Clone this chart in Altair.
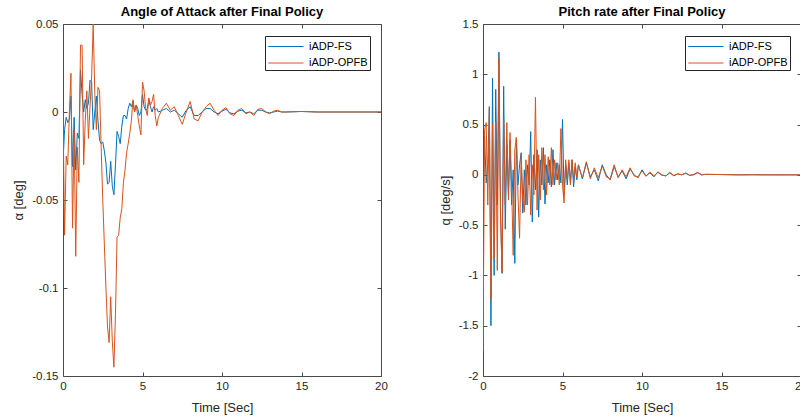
import numpy as np
import pandas as pd
import altair as alt

# Time grid: 0.1 s steps through the transient, then coarser samples
time_s = np.concatenate([
    np.round(np.arange(0, 6.05, 0.1), 2),
    np.arange(6.25, 14.01, 0.25),
    np.arange(15.0, 20.5, 1.0),
])

series_names = ["iADP-FS", "iADP-OPFB"]
series_colors = ["#0072BD", "#D95319"]

# Angle of attack [deg]
alpha_fs = [
    -0.029, -0.01, -0.003, -0.006, -0.004, 0.009, -0.031, -0.003, -0.033, -0.012,
    -0.015, 0.024, 0.01, 0.0, 0.007, 0.002, 0.005, 0.018, 0.017, -0.01,
    0.0, 0.009, -0.005, -0.016, -0.018, -0.017, -0.022, -0.029, -0.041, -0.04,
    -0.028, -0.042, -0.047, -0.03, -0.011, -0.014, -0.018, -0.008, -0.002, -0.002,
    -0.004, 0.002, 0.005, 0.003, 0.006, 0.0, 0.004, 0.002, -0.002, 0.0,
    0.01, 0.003, 0.001, 0.002, 0.007, 0.003, 0.0, 0.003, 0.001, 0.002,
    0.0,
    0.001, 0.002, 0.0, 0.001, -0.001, -0.003, 0.001, 0.003, -0.002, -0.002,
    0.0, 0.002, 0.002, 0.0, -0.001, 0.0005, 0.0015, -0.0005, -0.001, 0.0005,
    0.001, -0.0005, 0.0, -0.001, 0.001, 0.001, 0.0, -0.0005, 0.0, 0.0005,
    0.0, 0.0,
    0.0003, 0.0, 0.0, 0.0, 0.0, 0.0,
]
alpha_opfb = [
    0.0, -0.07, -0.025, -0.03, 0.0, 0.022, -0.066, -0.01, -0.082, -0.02,
    -0.04, 0.038, 0.038, -0.03, -0.005, 0.012, -0.015, 0.003, 0.02, 0.05,
    0.01, -0.01, 0.014, 0.012, -0.02, -0.05, -0.075, -0.1, -0.122, -0.131,
    -0.105, -0.13, -0.145, -0.115, -0.071, -0.07, -0.06, -0.055, -0.04, -0.033,
    -0.023, -0.018, -0.012, -0.005, 0.007, 0.0, 0.004, -0.002, -0.008, -0.013,
    0.017, 0.012, 0.002, -0.002, 0.008, 0.004, 0.006, 0.01, -0.002, -0.008,
    -0.003,
    0.002, 0.005, 0.001, 0.003, -0.002, -0.007, 0.0, 0.006, -0.004, -0.005,
    0.0, 0.003, 0.005, 0.001, -0.002, 0.001, 0.0025, -0.001, -0.002, 0.001,
    0.002, -0.001, 0.0, -0.002, 0.0015, 0.002, 0.0, -0.001, 0.0005, 0.001,
    0.0, 0.0,
    0.0003, 0.0, 0.0, 0.0, 0.0, 0.0,
]

# Pitch rate [deg/s]
q_fs = [
    -0.25, 0.38, -0.08, 0.1, 0.68, -1.5, 0.96, -1.0, 0.85, -0.3,
    1.22, -0.33, -0.98, 0.88, -0.54, 0.3, -0.2, 0.35, -0.3, 0.05,
    -0.88, 0.37, -0.1, 0.1, 0.22, -0.38, 0.05, -0.3, 0.1, -0.1,
    0.43, -0.47, 0.2, -0.15, 0.25, -0.42, 0.15, -0.1, 0.27, -0.29,
    0.1, -0.08, 0.15, -0.12, 0.25, -0.1, 0.12, -0.05, 0.1, -0.08,
    0.55, -0.2, 0.1, -0.1, 0.12, -0.08, 0.15, -0.12, 0.08, -0.05,
    0.1,
    -0.04, 0.12, -0.02, 0.05, -0.06, 0.1, 0.0, -0.05, 0.08, -0.02,
    0.04, -0.04, 0.06, 0.0, -0.03, 0.05, -0.01, 0.02, -0.02, 0.03,
    0.0, -0.01, 0.02, -0.01, 0.01, 0.0, 0.015, -0.005, 0.0, 0.02,
    0.0, 0.005,
    0.003, 0.0, 0.001, 0.0, 0.0, 0.0,
]
q_opfb = [
    -1.75, 0.45, 0.52, -0.3, 0.67, -1.24, 0.5, -0.83, 0.53, -0.95,
    1.17, -0.4, -0.97, 0.55, -0.3, 0.52, -0.25, 0.42, -0.1, -0.8,
    0.25, 0.37, -0.2, -0.63, 0.2, -0.25, -0.37, 0.15, -0.3, 0.2,
    -0.4, 0.1, -0.2, 0.77, -0.35, 0.2, -0.25, 0.27, -0.15, 0.2,
    -0.2, 0.18, -0.1, 0.27, -0.1, 0.15, -0.05, 0.12, -0.1, 0.46,
    -0.1, -0.28, 0.15, -0.05, 0.15, -0.1, 0.15, -0.05, 0.12, -0.03,
    0.1,
    -0.03, 0.13, -0.04, 0.07, -0.03, 0.09, -0.02, -0.04, 0.1, -0.03,
    0.05, -0.02, 0.07, -0.01, -0.02, 0.04, -0.015, 0.03, -0.01, 0.025,
    -0.005, -0.01, 0.025, -0.005, 0.01, 0.0, 0.02, -0.005, 0.005, 0.025,
    0.0, 0.005,
    0.003, 0.0, 0.001, 0.0, 0.0, 0.0,
]

x_ticks = [0, 5, 10, 15, 20]
alpha_ticks = [-0.15, -0.1, -0.05, 0, 0.05]
q_ticks = [-2, -1.5, -1, -0.5, 0, 0.5, 1, 1.5]

PLOT_W = 318
PLOT_H = 352
FONT = "Liberation Sans"
BOX = "#4a4a4a"
TEXT = "#262626"
LABEL_EXPR = "replace(format(datum.value, '~g'), '\u2212', '-')"


def long_frame(fs, opfb):
    return pd.DataFrame({
        "t": np.concatenate([time_s, time_s]),
        "v": np.concatenate([fs, opfb]),
        "series": [series_names[0]] * len(time_s) + [series_names[1]] * len(time_s),
    })


def panel(df, title, ytitle, ydomain, yticks):
    xs = alt.Scale(domain=[0, 20], nice=False, zero=False)
    ys = alt.Scale(domain=ydomain, nice=False, zero=False)

    lines = alt.Chart(df).mark_line(strokeWidth=1, clip=True).encode(
        x=alt.X("t:Q", scale=xs, axis=alt.Axis(
            orient="bottom", values=x_ticks, title="Time [Sec]", ticks=False,
            domain=False, grid=False, labelFlush=False, labelPadding=4,
            titlePadding=10, labelExpr=LABEL_EXPR)),
        y=alt.Y("v:Q", scale=ys, axis=alt.Axis(
            orient="left", values=yticks, title=ytitle, ticks=False,
            domain=False, grid=False, labelPadding=5, titlePadding=6,
            labelExpr=LABEL_EXPR)),
        color=alt.Color("series:N", scale=alt.Scale(domain=series_names, range=series_colors),
                        legend=alt.Legend(
                            title=None, orient="none", legendX=202, legendY=12,
                            fillColor="white", strokeColor=TEXT, padding=2,
                            symbolType="M-0.9,0H3.5", symbolSize=256,
                            symbolStrokeWidth=1,
                            labelFontSize=11, labelFont=FONT, labelColor="black",
                            labelOffset=25, rowPadding=2.5, cornerRadius=0)),
    )

    # inward tick marks on the bottom and left edges
    ticks_in_a = alt.Chart(df).mark_point(opacity=0).encode(
        x=alt.X("t:Q", scale=xs, axis=alt.Axis(
            orient="top", offset=-PLOT_H, values=x_ticks, labels=False, domain=False,
            grid=False, tickSize=4, tickColor=BOX, title=None)),
        y=alt.Y("v:Q", scale=ys, axis=alt.Axis(
            orient="right", offset=-PLOT_W, values=yticks, labels=False, domain=False,
            grid=False, tickSize=4, tickColor=BOX, title=None)),
    )
    # inward tick marks on the top and right edges
    ticks_in_b = alt.Chart(df).mark_point(opacity=0).encode(
        x=alt.X("t:Q", scale=xs, axis=alt.Axis(
            orient="bottom", offset=-PLOT_H, values=x_ticks, labels=False, domain=False,
            grid=False, tickSize=4, tickColor=BOX, title=None)),
        y=alt.Y("v:Q", scale=ys, axis=alt.Axis(
            orient="left", offset=-PLOT_W, values=yticks, labels=False, domain=False,
            grid=False, tickSize=4, tickColor=BOX, title=None)),
    )

    return alt.layer(lines, ticks_in_a, ticks_in_b).resolve_axis(
        x="independent", y="independent"
    ).properties(
        width=PLOT_W, height=PLOT_H,
        title=alt.TitleParams(title, fontSize=13, fontWeight="bold", font=FONT,
                              color="black", offset=-1, anchor="middle"),
    )


left = panel(long_frame(alpha_fs, alpha_opfb), "Angle of Attack after Final Policy",
             "\u03b1 [deg]", [-0.15, 0.05], alpha_ticks)
right = panel(long_frame(q_fs, q_opfb), "Pitch rate after Final Policy",
              "q [deg/s]", [-2, 1.5], q_ticks)

chart = alt.hconcat(left, right, spacing=50).resolve_scale(
    color="independent"
).resolve_legend(
    color="independent"
).configure_view(
    stroke=BOX, strokeWidth=1
).configure_axis(
    labelFont=FONT, labelFontSize=11.5, labelColor=TEXT,
    titleFont=FONT, titleFontSize=13, titleColor=TEXT, titleFontWeight="normal",
).properties(
    padding={"left": 12, "top": 5, "right": -8, "bottom": 0},
    background="white",
)

chart.save("out.html", embed_options={"renderer": "svg", "actions": False})
